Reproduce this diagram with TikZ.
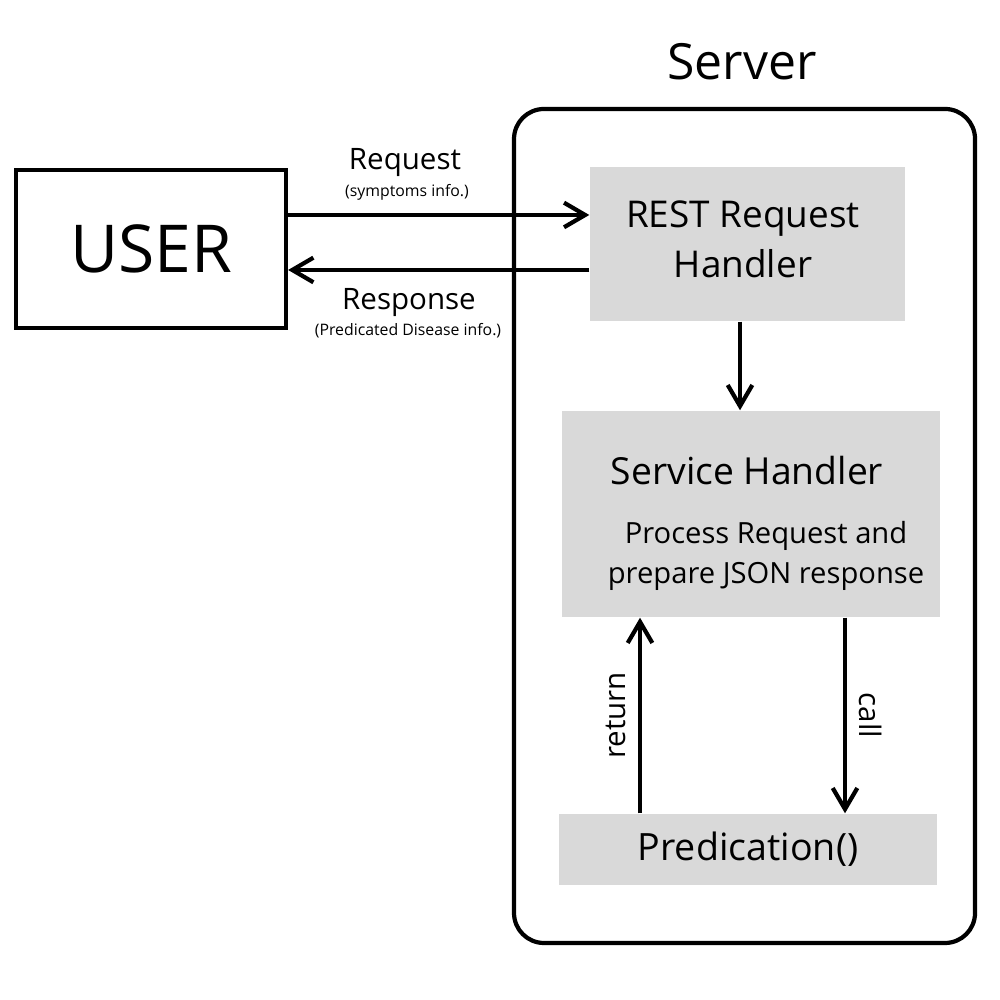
\documentclass[tikz,border=0pt]{standalone}
\usepackage{fontspec}
\setmainfont{Open Sans}
\usepackage{xcolor}
\usetikzlibrary{arrows.meta}
\definecolor{boxgray}{RGB}{217,217,217}

\begin{document}
\begin{tikzpicture}[
    arr/.style={line width=1.2pt, -{Straight Barb[length=6pt,width=7pt,line width=1.2pt]}},
    grayblock/.style={fill=boxgray, inner sep=0pt, align=center},
    fs/.style 2 args={font=\fontsize{#1}{#2}\selectfont}
  ]
  \useasboundingbox (0,0) rectangle (10,10);
  % client side
  \node[draw, line width=1.2pt, minimum width=2.70cm, minimum height=1.58cm, fs={18.8}{22}]
    (user) at (1.51,7.51) {USER};
  % server frame
  \node[draw, line width=1.2pt, rounded corners=0.3cm, minimum width=4.61cm,
    minimum height=8.34cm] (server) at (7.445,4.74) {};
  \node[fs={14.2}{17}] (servertitle) at (7.42,9.38) {Server};
  % blocks inside the server
  \node[grayblock, minimum width=3.15cm, minimum height=1.54cm] (rest)
    at (7.475,7.56) {};
  \node[fs={10.5}{14.2}, align=center] (resttext) at (7.43,7.61) {REST Request\\Handler};
  \node[grayblock, minimum width=3.78cm, minimum height=2.06cm] (service)
    at (7.51,4.86) {};
  \node[fs={10.6}{13}] (svctitle) at (7.47,5.29) {Service Handler};
  \node[fs={8.3}{11.4}, align=center] (svctext) at (7.66,4.44)
    {Process Request and\\prepare JSON response};
  \node[grayblock, minimum width=3.78cm, minimum height=0.71cm, fs={10.7}{13}] (pred)
    at (7.48,1.505) {Predication()};
  % labels of the exchange
  \node[fs={8.4}{10}] (reqlbl) at (4.05,8.37) {Request};
  \node[fs={4.5}{5}] (reqsub) at (4.07,8.08) {(symptoms info.)};
  \node[fs={8.4}{10}] (resplbl) at (4.09,6.97) {Response};
  \node[fs={4.5}{5}] (respsub) at (4.08,6.69) {(Predicated Disease info.)};
  % connectors
  \draw[arr] ([yshift=3.4mm]user.east) -- ([yshift=3.4mm]user.east -| rest.west);
  \draw[arr] ([yshift=-2.1mm]user.east -| rest.west) -- ([yshift=-2.1mm]user.east);
  \draw[arr] ([xshift=-0.75mm]rest.south) -- ([xshift=-0.75mm]rest.south |- service.north);
  \draw[arr] ([xshift=-10.8mm]pred.north) -- ([xshift=-10.8mm]pred.north |- service.south)
    node[midway, sloped, above, fs={8.4}{10}] {return};
  \draw[arr] ([xshift=9.4mm]service.south) -- ([xshift=9.4mm]service.south |- pred.north)
    node[midway, sloped, above, fs={8.4}{10}] {call};
\end{tikzpicture}
\end{document}
